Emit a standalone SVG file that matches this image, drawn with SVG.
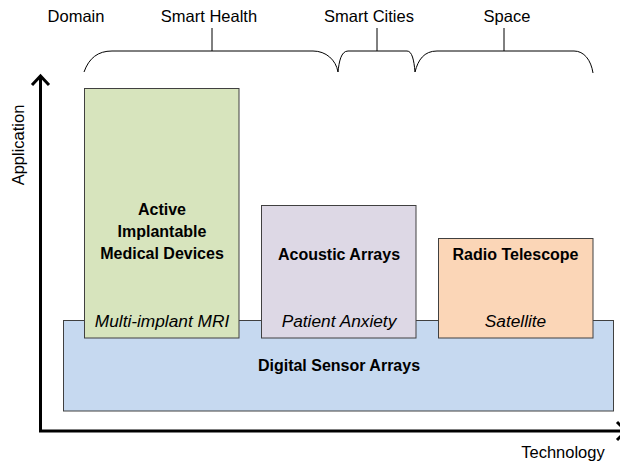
<svg xmlns="http://www.w3.org/2000/svg" width="620" height="463" viewBox="0 0 620 463">
  <style>
    text { font-family: "Liberation Sans", Arial, sans-serif; fill: #000; }
    .lbl { font-size: 16.5px; }
    .title { font-size: 16px; font-weight: bold; text-anchor: middle; }
    .sub { font-size: 17.3px; font-style: italic; text-anchor: middle; }
    .box { stroke: #404040; stroke-width: 1; }
    .brace { fill: none; stroke: #000; stroke-width: 1; }
    .axis { fill: none; stroke: #000; stroke-width: 3; }
  </style>

  <!-- domain labels and braces -->
  <g id="domains">
    <text class="lbl" x="76" y="22" text-anchor="middle">Domain</text>
    <text class="lbl" x="209" y="22" text-anchor="middle">Smart Health</text>
    <text class="lbl" x="369" y="22" text-anchor="middle">Smart Cities</text>
    <text class="lbl" x="507" y="22" text-anchor="middle">Space</text>
    <path class="brace" d="M84,72 C89,58 98,51 112,51 H313 C326,51 336,60 338,72 M212,51 V28"/>
    <path class="brace" d="M338,72 C339,62 341,51 348,51 H407 C412,51 414,60 415,72 M377,51 V28"/>
    <path class="brace" d="M415,72 C418,60 424,51 437,51 H574 C584,51 591,60 593,73 M504,51 V28"/>
  </g>

  <!-- axes -->
  <g id="connectors">
    <path class="axis" d="M40.5,76 V431 H626"/>
    <polyline class="axis" points="32,85 40.5,76 49,85"/>
    <polyline class="axis" points="617,422 626,431 617,440"/>
    <text class="lbl" transform="translate(24,145) rotate(-90)" text-anchor="middle">Application</text>
    <text class="lbl" x="563" y="458" text-anchor="middle">Technology</text>
  </g>

  <g id="digital-sensor-arrays">
    <rect class="box" x="63.5" y="320.5" width="550" height="90.5" fill="#c6d9f0"/>
    <text class="title" x="339" y="371">Digital Sensor Arrays</text>
  </g>

  <g id="aimd">
    <rect class="box" x="84.5" y="88.5" width="154.5" height="249.5" fill="#d7e4bd"/>
    <text class="title" x="162" y="215">Active</text>
    <text class="title" x="162" y="237">Implantable</text>
    <text class="title" x="162" y="259">Medical Devices</text>
    <text class="sub" x="162" y="327">Multi-implant MRI</text>
  </g>

  <g id="acoustic-arrays">
    <rect class="box" x="261.5" y="205.5" width="154.5" height="132.5" fill="#ddd8e5"/>
    <text class="title" x="339" y="260">Acoustic Arrays</text>
    <text class="sub" x="339" y="327">Patient Anxiety</text>
  </g>

  <g id="radio-telescope">
    <rect class="box" x="438.5" y="238.5" width="154.5" height="99.5" fill="#fbd6b7"/>
    <text class="title" x="515.5" y="260">Radio Telescope</text>
    <text class="sub" x="515.5" y="327">Satellite</text>
  </g>
</svg>
